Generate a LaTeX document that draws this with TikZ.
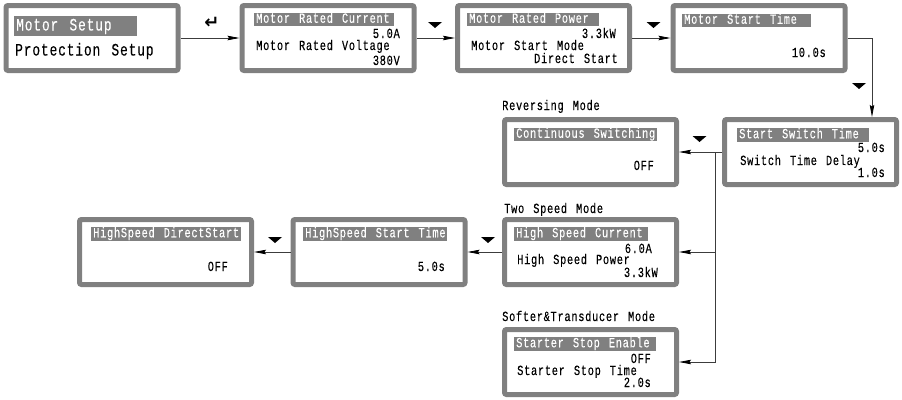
\documentclass[tikz,border=0pt]{standalone}
\usepackage{fontspec}
\usetikzlibrary{arrows.meta}
\newfontfamily\lcdfont[FakeStretch=0.74,LetterSpace=5,WordSpace=1.3,FakeBold=0.15]{Liberation Mono}
\newfontfamily\keyfont{DejaVu Sans}
\definecolor{lcdgray}{RGB}{128,128,128}
\definecolor{lcdline}{RGB}{60,60,60}
\newcommand{\lcdsize}{\lcdfont\fontsize{14}{14}\selectfont}
\newcommand{\hltext}[2]{\makebox[#1pt][l]{#2}}
\newcommand{\keydown}[1]{\fill[black,shift={#1}] (-7,-3) -- (7,-3) -- (0,3) -- cycle;}

\tikzset{
  lcd/.style={draw=lcdgray, line width=5pt, rounded corners=2pt, fill=white,
              minimum width=172pt, minimum height=65pt, inner sep=0pt},
  hl/.style={fill=lcdgray, text=white, anchor=west, inner xsep=2pt, inner ysep=0pt,
             text height=10pt, text depth=3.5pt, font=\lcdsize},
  txt/.style={inner sep=0pt, font=\lcdsize},
  conn/.style={draw=lcdline, line width=0.8pt, -{Stealth[length=12pt,width=4.5pt,inset=1.5pt,color=black]}}
}

\begin{document}
\begin{tikzpicture}[x=1pt,y=-1pt]
  \useasboundingbox (0,0) rectangle (902,399);
%
  % first row
  \node[lcd] (b1) at (92,38) {};
  \node[lcd] (b2) at (328,38) {};
  \node[lcd] (b3) at (543.5,38) {};
  \node[lcd] (b4) at (759,38) {};
%
  \node[hl, font=\lcdfont\fontsize{17.4}{17}\selectfont, text height=13pt, text depth=4pt, inner ysep=1.5pt] (b1a) at (14,26) {\hltext{119}{Motor Setup}};
  \node[txt, anchor=base west, font=\lcdfont\fontsize{17.4}{17}\selectfont] (b1b) at (15,55.5) {Protection Setup};
%
  \node[hl] (b2a) at (254,19.5) {\hltext{136}{Motor Rated Current}};
  \node[txt, anchor=base east] (b2b) at (400,38) {5.0A};
  \node[txt, anchor=base west] (b2c) at (256,50) {Motor Rated Voltage};
  \node[txt, anchor=base east] (b2d) at (400,65) {380V};
%
  \node[hl] (b3a) at (467,19.5) {\hltext{128}{Motor Rated Power}};
  \node[txt, anchor=base east] (b3b) at (616,38) {3.3kW};
  \node[txt, anchor=base west] (b3c) at (471,50) {Motor Start Mode};
  \node[txt, anchor=base east] (b3d) at (618,63) {Direct Start};
%
  \node[hl] (b4a) at (682,20.5) {\hltext{125}{Motor Start Time}};
  \node[txt, anchor=base east] (b4b) at (826,57) {10.0s};
%
  % reversing mode
  \node[txt, anchor=base west] (revlbl) at (502,110) {Reversing Mode};
  \node[lcd] (b5) at (810.5,152) {};
  \node[lcd] (b6) at (590.5,152) {};
%
  \node[hl] (b5a) at (737,135) {\hltext{128}{Start Switch Time}};
  \node[txt, anchor=base east] (b5b) at (885,152) {5.0s};
  \node[txt, anchor=base west] (b5c) at (740,165) {Switch Time Delay};
  \node[txt, anchor=base east] (b5d) at (885,177) {1.0s};
%
  \node[hl] (b6a) at (514,134.5) {\hltext{139}{Continuous Switching}};
  \node[txt, anchor=base east] (b6b) at (654,170) {OFF};
%
  % two speed mode
  \node[txt, anchor=base west] (twolbl) at (504,213) {Two Speed Mode};
  \node[lcd] (b7) at (590.5,252) {};
  \node[lcd] (b8) at (379,252) {};
  \node[lcd] (b9) at (165.5,252) {};
%
  \node[hl] (b7a) at (514,234) {\hltext{130}{High Speed Current}};
  \node[txt, anchor=base east] (b7b) at (652,253) {6.0A};
  \node[txt, anchor=base west] (b7c) at (517,264) {High Speed Power};
  \node[txt, anchor=base east] (b7d) at (658,277) {3.3kW};
%
  \node[hl] (b8a) at (303,234) {\hltext{140}{HighSpeed Start Time}};
  \node[txt, anchor=base east] (b8b) at (445,271) {5.0s};
%
  \node[hl] (b9a) at (91,234) {\hltext{146}{HighSpeed DirectStart}};
  \node[txt, anchor=base east] (b9b) at (228,271) {OFF};
%
  % softer & transducer mode
  \node[txt, anchor=base west] (softlbl) at (502,321) {Softer\&Transducer Mode};
  \node[lcd] (b10) at (590.5,362) {};
%
  \node[hl] (b10a) at (514,344) {\hltext{138}{Starter Stop Enable}};
  \node[txt, anchor=base east] (b10b) at (651,363) {OFF};
  \node[txt, anchor=base west] (b10c) at (517,375) {Starter Stop Time};
  \node[txt, anchor=base east] (b10d) at (651,387) {2.0s};
%
  % connectors
  \coordinate (turn) at (872,38);
  \coordinate (split) at (715,152);
  \draw[conn] (b1.east) -- (b2.west);
  \draw[conn] (b2.east) -- (b3.west);
  \draw[conn] (b3.east) -- (b4.west);
  \draw[conn] (b4.east) -- (turn) -- (turn |- b5.north);
  \draw[conn] (b5.west) -- (b6.east);
  \draw[conn] (split) |- (b7.east);
  \draw[conn] (split) |- (b10.east);
  \draw[conn] (b7.west) -- (b8.east);
  \draw[conn] (b8.west) -- (b9.east);
%
  % keys
  \node[font=\keyfont\bfseries\fontsize{18}{18}\selectfont, inner sep=0pt] (enter) at (212,23) {↵};
  \keydown{(435,25)}
  \keydown{(653.5,25)}
  \keydown{(859,86)}
  \keydown{(699.5,139)}
  \keydown{(488,240)}
  \keydown{(275,240)}
\end{tikzpicture}
\end{document}
